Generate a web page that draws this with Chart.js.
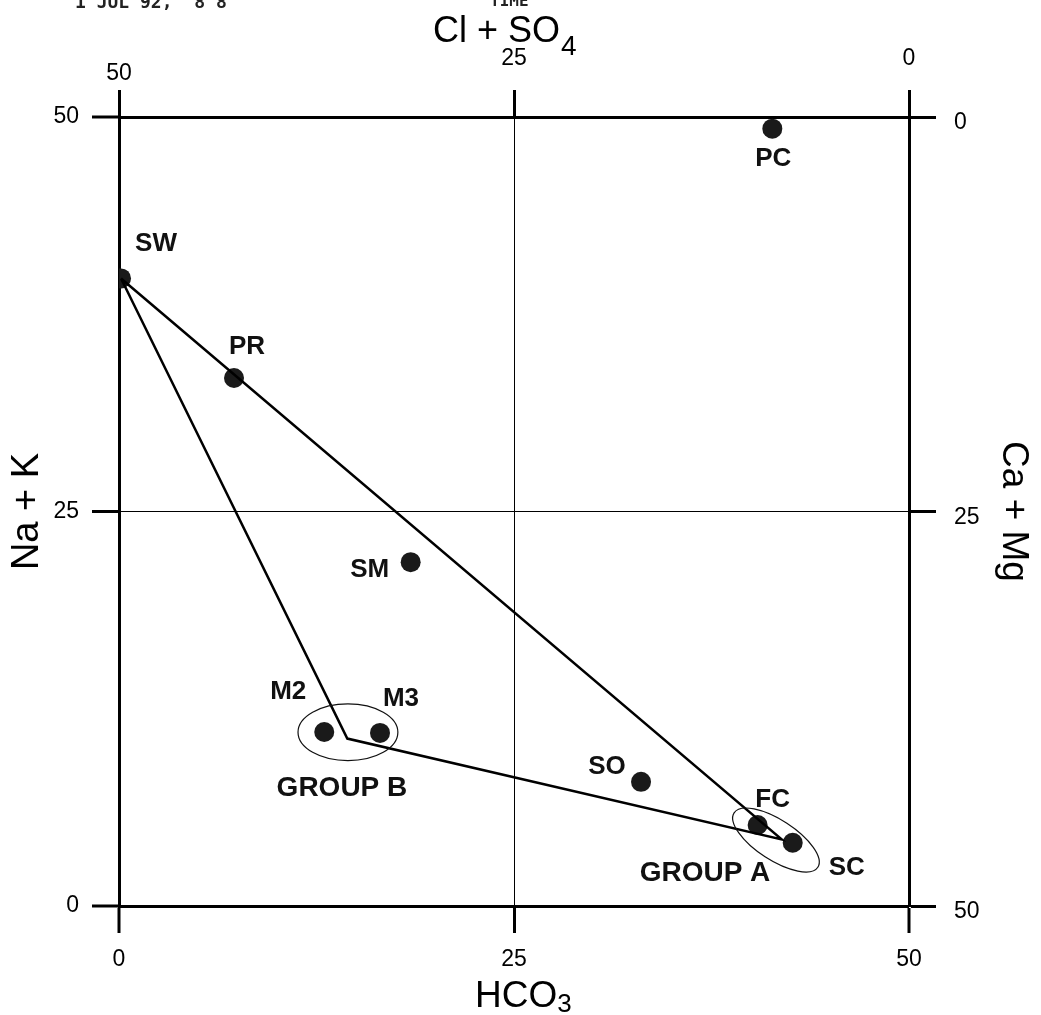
<!DOCTYPE html>
<html>
<head>
<meta charset="utf-8">
<script src="https://cdn.jsdelivr.net/npm/chart.js@4/dist/chart.umd.min.js"></script>
<style>
  html, body { margin: 0; padding: 0; background: #fff; }
  #wrap { width: 1041px; height: 1015px; position: relative; }
</style>
</head>
<body>
<div id="wrap"><canvas id="piper"></canvas></div>
<script>
// samples, in % meq
const sampleNames = ['PC', 'SW', 'PR', 'SM', 'M2', 'M3', 'SO', 'FC', 'SC'];
const hco3 = [41.35, 0.13, 7.28, 18.46, 12.99, 16.52, 33.04, 40.42, 42.64];
const naK = [49.26, 39.77, 33.46, 21.79, 11.03, 10.97, 7.87, 5.13, 4.01];

// mixing triangle SW - group A - group B
const mixHco3 = [0.13, 41.94, 14.45, 0.13];
const mixNaK = [39.77, 4.22, 10.61, 39.77];

// sample groups (centre and half spread)
const groupNames = ['GROUP B', 'GROUP A'];
const groupHco3 = [14.49, 41.58];
const groupNaK = [11.01, 4.18];
const groupSpreadHco3 = [3.16, 3.16];
const groupSpreadNaK = [1.8, 1.27];

const tickValues = [0, 25, 50];

const FONT = "'Liberation Sans', Arial, Helvetica, sans-serif";

// where each name sits around its dot (px)
const labelOffsets = {
  PC: [1, 30], SW: [35, -35], PR: [13, -31], SM: [-41, 8], M2: [-36, -40],
  M3: [21, -34], SO: [-34, -15], FC: [15, -25], SC: [54, 25]
};
const groupLabelOffsets = { 'GROUP B': [-6, 56], 'GROUP A': [-71, 33] };
const groupTilt = { 'GROUP B': 0, 'GROUP A': 33 };

const extras = {
  id: 'extras',
  afterDatasetsDraw(chart) {
    const { ctx, scales: { x, y } } = chart;
    ctx.save();
    ctx.fillStyle = '#111';
    ctx.strokeStyle = '#111';
    ctx.textAlign = 'center';
    ctx.textBaseline = 'middle';

    // group ellipses + names
    groupNames.forEach((g, i) => {
      const cx = x.getPixelForValue(groupHco3[i]);
      const cy = y.getPixelForValue(groupNaK[i]);
      const rx = x.getPixelForValue(groupHco3[i] + groupSpreadHco3[i]) - cx;
      const ry = cy - y.getPixelForValue(groupNaK[i] + groupSpreadNaK[i]);
      ctx.lineWidth = 1.2;
      ctx.beginPath();
      ctx.ellipse(cx, cy, rx, ry, groupTilt[g] * Math.PI / 180, 0, Math.PI * 2);
      ctx.stroke();
      const off = groupLabelOffsets[g];
      ctx.font = 'bold 28px ' + FONT;
      ctx.fillText(g, cx + off[0], cy + off[1]);
    });

    // sample names
    ctx.font = 'bold 26px ' + FONT;
    chart.getDatasetMeta(1).data.forEach((pt, i) => {
      const off = labelOffsets[sampleNames[i]];
      ctx.fillText(sampleNames[i], pt.x + off[0], pt.y + off[1]);
    });
    ctx.restore();
  },
  afterDraw(chart) {
    const { ctx, chartArea: a } = chart;
    const cx = (a.left + a.right) / 2;
    ctx.save();
    ctx.fillStyle = '#000';
    ctx.textAlign = 'left';
    ctx.textBaseline = 'alphabetic';

    // top title Cl + SO4
    ctx.font = '36px ' + FONT;
    let x0 = cx - 81;
    ctx.fillText('Cl + SO', x0, a.top - 75);
    x0 += ctx.measureText('Cl + SO').width + 1;
    ctx.font = '28px ' + FONT;
    ctx.fillText('4', x0, a.top - 62);

    // bottom title HCO3
    ctx.font = '37px ' + FONT;
    x0 = cx - 39;
    ctx.fillText('HCO', x0, a.bottom + 101);
    x0 += ctx.measureText('HCO').width;
    ctx.font = '26px ' + FONT;
    ctx.fillText('3', x0, a.bottom + 106);

    // plotter stamp, cut off at the top of the sheet
    ctx.fillStyle = '#222';
    ctx.font = "bold 18px 'DejaVu Sans Mono', monospace";
    ctx.fillText('1 JUL 92,  8 8', 75, 8);
    ctx.font = "bold 16px 'DejaVu Sans Mono', monospace";
    ctx.fillText('TIME', 490, 6);
    ctx.restore();
  }
};

const setTicks = (s) => { s.ticks = tickValues.map(v => ({ value: v })); };
const tickFont = { family: FONT, size: 23 };
const innerGrid = {
  color: '#000',
  lineWidth: (c) => (c.tick && c.tick.value === 25 ? 1 : 0),
  tickWidth: 3,
  tickColor: '#000',
  tickLength: 27
};
const edgeGrid = {
  drawOnChartArea: false,
  color: '#000',
  tickWidth: 3,
  tickColor: '#000',
  tickLength: 27
};
const axisBorder = { display: true, color: '#000', width: 3 };

new Chart(document.getElementById('piper'), {
  type: 'scatter',
  data: {
    datasets: [
      {
        label: 'mixing',
        data: mixHco3.map((v, i) => ({ x: v, y: mixNaK[i] })),
        showLine: true,
        borderColor: '#000',
        borderWidth: 2.5,
        pointRadius: 0,
        tension: 0
      },
      {
        label: 'samples',
        data: hco3.map((v, i) => ({ x: v, y: naK[i] })),
        pointRadius: 10,
        pointBackgroundColor: '#1a1a1a',
        pointBorderWidth: 0
      }
    ]
  },
  options: {
    responsive: true,
    maintainAspectRatio: false,
    animation: false,
    events: [],
    layout: { padding: 0 },
    plugins: { legend: { display: false }, tooltip: { enabled: false } },
    scales: {
      x: {
        type: 'linear', position: 'bottom', min: 0, max: 50,
        afterBuildTicks: setTicks,
        afterFit: (s) => { s.height = 109; },
        ticks: { font: tickFont, color: '#000', padding: 13, maxRotation: 0 },
        grid: innerGrid,
        border: axisBorder
      },
      xTop: {
        type: 'linear', position: 'top', min: 0, max: 50, reverse: true,
        afterBuildTicks: setTicks,
        afterFit: (s) => { s.height = 117; },
        ticks: {
          color: '#000', padding: 3, maxRotation: 0,
          font: (c) => ({ family: FONT, size: 23, lineHeight: c.tick && c.tick.value === 50 ? 1.15 : 2.45 })
        },
        grid: edgeGrid,
        border: axisBorder
      },
      y: {
        type: 'linear', position: 'left', min: 0, max: 50,
        afterBuildTicks: setTicks,
        afterFit: (s) => { s.width = 119; },
        ticks: { font: tickFont, color: '#000', padding: 13 },
        grid: innerGrid,
        border: axisBorder,
        title: { display: true, text: 'Na + K', color: '#000', font: { family: FONT, size: 38 }, padding: { top: 5, bottom: 0 } }
      },
      yRight: {
        type: 'linear', position: 'right', min: 0, max: 50, reverse: true,
        afterBuildTicks: setTicks,
        afterFit: (s) => { s.width = 132; },
        ticks: { font: tickFont, color: '#000', padding: 18, labelOffset: 6 },
        grid: edgeGrid,
        border: axisBorder,
        title: { display: true, text: 'Ca + Mg', color: '#000', font: { family: FONT, size: 37 }, padding: { top: 6, bottom: 0 } }
      }
    }
  },
  plugins: [extras]
});
</script>
</body>
</html>
